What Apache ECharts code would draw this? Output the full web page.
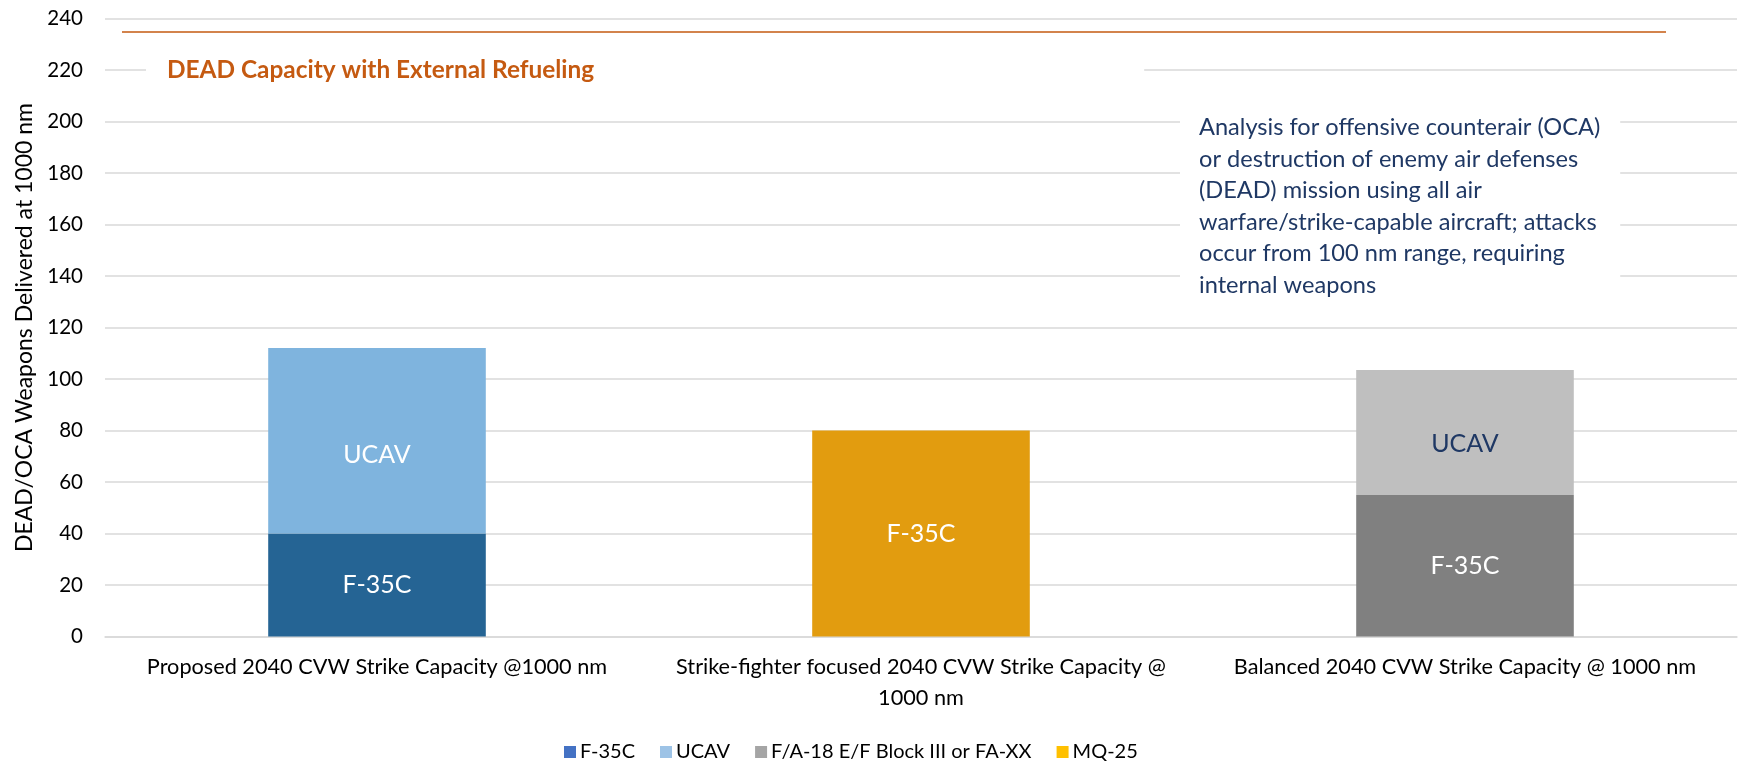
<!DOCTYPE html>
<html>
<head>
<meta charset="utf-8">
<title>DEAD/OCA weapons delivered</title>
<script src="https://cdn.jsdelivr.net/npm/echarts@6/dist/echarts.min.js"></script>
<style>
  html, body { margin: 0; padding: 0; background: #fff; }
  #chart { width: 1739px; height: 762px; }
</style>
</head>
<body>
<div id="chart"></div>
<script>
  // chart data
  var categories = [
    'Proposed 2040 CVW Strike Capacity @1000 nm',
    'Strike-fighter focused 2040 CVW Strike Capacity @\n1000 nm',
    'Balanced 2040 CVW Strike Capacity @ 1000 nm'
  ];
  var seriesNames = ['F-35C', 'UCAV', 'F/A-18 E/F Block III or FA-XX', 'MQ-25'];
  var f35cValues = [40, 80, 55];
  var ucavValues = [72, null, 48.5];
  var fa18Values = [];
  var mq25Values = [];
  var refuelCapacity = 235;
  var yMin = 0, yMax = 240, yStep = 20;
  var refuelText = 'DEAD Capacity with External Refueling';
  var noteLines = [
    'Analysis for offensive counterair (OCA)',
    'or destruction of enemy air defenses',
    '(DEAD) mission using all air',
    'warfare/strike-capable aircraft; attacks',
    'occur from 100 nm range, requiring',
    'internal weapons'
  ];

  // styling
  var font = 'Lato';
  var legendColors = ['#4472C4', '#9DC3E6', '#A5A5A5', '#FFC000'];
  var f35cBarColors = ['#256494', '#E29C0F', '#808080'];
  var ucavBarColors = ['#7FB4DE', '#7FB4DE', '#BFBFBF'];
  var ucavLabelColors = ['#fff', '#fff', '#1F3864'];
  var ucavLabelOffsets = [[0, 14], [0, 0], [0, 12]];

  function items(values, colors, labelColors, offsets) {
    return values.map(function (v, i) {
      if (v == null) return '-';
      var it = { value: v, itemStyle: { color: colors[i] } };
      if (labelColors) it.label = { color: labelColors[i], offset: offsets[i] };
      return it;
    });
  }

  var barLabel = {
    show: true,
    position: 'inside',
    color: '#fff',
    fontFamily: font,
    fontSize: 25,
    formatter: '{a}'
  };

  var myChart = echarts.init(document.getElementById('chart'), null, { renderer: 'canvas' });
  var option = {
    backgroundColor: '#fff',
    animation: false,
    grid: { left: 105, right: 2, top: 18.5, bottom: 125.5, containLabel: false },
    title: [{
      text: refuelText,
      left: 146,
      top: 51,
      padding: [5, 550, 5, 21],
      backgroundColor: '#fff',
      textStyle: { color: '#C55A11', fontFamily: font, fontWeight: 'bold', fontSize: 24.4, lineHeight: 28 }
    }, {
      text: noteLines.join('\n'),
      left: 1180,
      top: 106,
      padding: [6, 20, 6, 19],
      backgroundColor: '#fff',
      textStyle: { color: '#1F3864', fontFamily: font, fontWeight: 'normal', fontSize: 23.6, lineHeight: 31.5 }
    }],
    legend: {
      data: seriesNames,
      left: 559,
      top: 736,
      itemWidth: 12,
      itemHeight: 12,
      itemGap: 25,
      icon: 'rect',
      selectedMode: false,
      textStyle: { fontFamily: font, fontSize: 20, color: '#000', lineHeight: 22, padding: [0, 0, 0, -1] }
    },
    xAxis: {
      type: 'category',
      data: categories,
      axisLine: { lineStyle: { color: '#D9D9D9', width: 1.5 } },
      axisTick: { show: false },
      axisLabel: { interval: 0, margin: 15, color: '#000', fontFamily: font, fontSize: 21.7, lineHeight: 31 }
    },
    yAxis: {
      type: 'value',
      min: yMin,
      max: yMax,
      interval: yStep,
      name: 'DEAD/OCA Weapons Delivered at 1000 nm',
      nameLocation: 'middle',
      nameGap: 69,
      nameTextStyle: { color: '#000', fontFamily: font, fontSize: 23 },
      axisLine: { show: false },
      axisTick: { show: false },
      axisLabel: { margin: 22, color: '#000', fontFamily: font, fontSize: 20.5 },
      splitLine: { lineStyle: { color: '#D9D9D9', width: 1.5 } }
    },
    series: [{
      name: seriesNames[0],
      type: 'bar',
      stack: 'total',
      barWidth: '40%',
      itemStyle: { color: legendColors[0] },
      label: barLabel,
      data: items(f35cValues, f35cBarColors)
    }, {
      name: seriesNames[1],
      type: 'bar',
      stack: 'total',
      barWidth: '40%',
      itemStyle: { color: legendColors[1] },
      label: barLabel,
      data: items(ucavValues, ucavBarColors, ucavLabelColors, ucavLabelOffsets)
    }, {
      name: seriesNames[2],
      type: 'bar',
      stack: 'total',
      barWidth: '40%',
      itemStyle: { color: legendColors[2] },
      data: fa18Values
    }, {
      name: seriesNames[3],
      type: 'bar',
      stack: 'total',
      barWidth: '40%',
      itemStyle: { color: legendColors[3] },
      data: mq25Values
    }, {
      name: 'refuel',
      type: 'line',
      data: [],
      markLine: {
        silent: true,
        symbol: 'none',
        label: { show: false },
        lineStyle: { color: '#C55A11', width: 1.5, type: 'solid' },
        data: [[{ yAxis: refuelCapacity, x: 122 }, { yAxis: refuelCapacity, x: 1666 }]]
      }
    }]
  };
  myChart.setOption(option);
</script>
</body>
</html>
